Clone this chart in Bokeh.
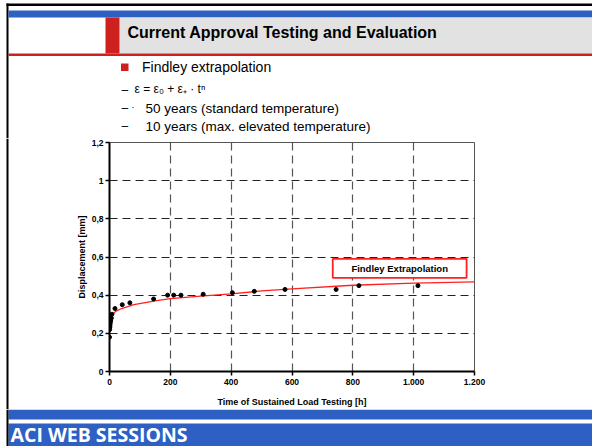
from bokeh.plotting import figure
from bokeh.layouts import column, row
from bokeh.models import Range1d, FixedTicker, BoxAnnotation, Label
from bokeh.core.properties import value
from bokeh.embed import file_html
from bokeh.resources import INLINE

# ---------------- data ----------------
t_measured = [0, 0.5, 1, 1.5, 2, 3, 4, 6, 8, 18, 42, 67, 145, 191, 211, 235, 308, 404, 476, 577, 745, 820, 1014]
d_measured = [0.18, 0.22, 0.23, 0.24, 0.25, 0.26, 0.27, 0.28, 0.30, 0.33, 0.35, 0.36, 0.38, 0.40, 0.40, 0.40,
              0.405, 0.413, 0.42, 0.43, 0.43, 0.45, 0.45]

t_findley = [0, 0.3, 1, 3, 8, 20, 40, 80, 150, 200, 300, 400, 500, 600, 800, 1000, 1200]
d_findley = [0.20, 0.225, 0.24, 0.27, 0.295, 0.315, 0.33, 0.35, 0.37, 0.382, 0.395, 0.407, 0.422, 0.433, 0.452, 0.463, 0.47]

x_ticks = [0, 200, 400, 600, 800, 1000, 1200]
x_tick_labels = ["0", "200", "400", "600", "800", "1.000", "1.200"]
y_ticks = [0, 0.2, 0.4, 0.6, 0.8, 1.0, 1.2]
y_tick_labels = ["0", "0,2", "0,4", "0,6", "0,8", "1", "1,2"]

title_text = "Current Approval Testing and Evaluation"
bullet_text = "Findley extrapolation"
sub_texts = ["ε = ε₀ + ε₊ · tⁿ", "50 years (standard temperature)", "10 years (max. elevated temperature)"]
legend_text = "Findley Extrapolation"
x_title = "Time of Sustained Load Testing [h]"
y_title = "Displacement [mm]"
footer_text = "ACI WEB SESSIONS"

RED = "#cf2020"
BLUE = "#2d60c2"
FONT = value("Liberation Sans")

W = 592


def deco_figure(width, height, y0):
    f = figure(width=width, height=height, x_range=Range1d(0, width), y_range=Range1d(y0 + height, y0),
               x_axis_type=None, y_axis_type=None, output_backend="svg", toolbar_location=None,
               min_border=0, min_border_left=0, min_border_right=0, min_border_top=0, min_border_bottom=0,
               outline_line_color=None, frame_align=False)
    f.background_fill_color = "white"
    f.border_fill_color = "white"
    return f


# ---------------- header (page y 0..138) ----------------
H1 = 138
hdr = deco_figure(W, H1, 0)
hdr.quad(left=[6], right=[592], top=[3], bottom=[5.5], color="black", line_color=None)
hdr.quad(left=[6], right=[8], top=[3], bottom=[H1], color="black", line_color=None)
hdr.quad(left=[8], right=[592], top=[10], bottom=[17], color=BLUE, line_color=None)
hdr.quad(left=[119], right=[592], top=[17], bottom=[53], color="#e2e2e2", line_color=None)
hdr.quad(left=[105], right=[119], top=[17], bottom=[53], color=RED, line_color=None)
hdr.quad(left=[8], right=[592], top=[53], bottom=[55.5], color=RED, line_color=None)
hdr.quad(left=[120.5], right=[128], top=[63], bottom=[70.5], color=RED, line_color=None)
hdr.text(x=[127], y=[32], text=[title_text], text_font=FONT, text_font_style="bold",
         text_font_size="16px", text_color="black", text_baseline="middle")
hdr.text(x=[141.5], y=[66.5], text=[bullet_text], text_font=FONT, text_font_size="14px",
         text_color="black", text_baseline="middle")
hdr.text(x=[121, 121, 121], y=[89, 107.5, 125.5], text=["–", "–", "–"], text_font=FONT,
         text_font_size="12px", text_color="black", text_baseline="middle")
hdr.text(x=[131], y=[106.5], text=["·"], text_font=FONT, text_font_size="9px",
         text_color="black", text_baseline="middle")
hdr.text(x=[134], y=[88.5], text=[sub_texts[0]], text_font=FONT, text_font_size="12px",
         text_color="black", text_baseline="middle")
hdr.text(x=[145, 145], y=[107.5, 125.5], text=sub_texts[1:], text_font=FONT, text_font_size="13.5px",
         text_color="black", text_baseline="middle")

# ---------------- chart (page y 138..409) ----------------
H2 = 271
strip = deco_figure(9, H2, 138)
strip.quad(left=[6], right=[8], top=[138], bottom=[138 + H2], color="black", line_color=None)

p = figure(width=W - 9, height=H2, x_range=Range1d(0, 1200), y_range=Range1d(0, 1.2),
           output_backend="svg", toolbar_location=None, frame_align=False,
           min_border_left=100, min_border_right=118, min_border_top=4, min_border_bottom=37)
p.background_fill_color = "white"
p.border_fill_color = "white"
p.outline_line_color = "#555555"
p.outline_line_width = 1

p.xaxis.ticker = FixedTicker(ticks=x_ticks)
p.xaxis.major_label_overrides = {t: l for t, l in zip(x_ticks, x_tick_labels)}
p.yaxis.ticker = FixedTicker(ticks=y_ticks)
p.yaxis.major_label_overrides = {t: l for t, l in zip(y_ticks, y_tick_labels)}

for ax in (p.xaxis[0], p.yaxis[0]):
    ax.axis_line_width = 2
    ax.axis_line_color = "black"
    ax.major_tick_line_color = "black"
    ax.major_tick_line_width = 1.5
    ax.major_tick_out = 4
    ax.major_tick_in = 0
    ax.minor_tick_line_color = None
    ax.major_label_text_font = "Liberation Sans"
    ax.major_label_text_font_style = "bold"
    ax.major_label_text_font_size = "8.5px"
    ax.major_label_text_color = "black"
    ax.axis_label_text_font = "Liberation Sans"
    ax.axis_label_text_font_style = "bold"
    ax.axis_label_text_font_size = "9px"
    ax.axis_label_text_color = "black"

p.xaxis.axis_label = x_title
p.yaxis.axis_label = y_title
p.xaxis.major_label_standoff = 3
p.xaxis.axis_label_standoff = 9
p.yaxis.major_label_standoff = 2
p.yaxis.axis_label_standoff = 2

p.xgrid.ticker = FixedTicker(ticks=x_ticks[1:-1])
p.ygrid.ticker = FixedTicker(ticks=y_ticks[1:-1])
p.xgrid.grid_line_color = "#555555"
p.xgrid.grid_line_width = 1.2
p.xgrid.grid_line_dash = "8 5"
p.ygrid.grid_line_color = "#222222"
p.ygrid.grid_line_width = 1
p.ygrid.grid_line_dash = "8 5"

p.line(t_findley, d_findley, line_color="#ff2020", line_width=1.3)
p.scatter(t_measured, d_measured, marker="circle", size=4, color="black")

p.add_layout(BoxAnnotation(left=734, right=1174, bottom=0.491, top=0.59, fill_color="white",
                           fill_alpha=1, line_color="#ff2020", line_alpha=1, line_width=1.8))
p.add_layout(Label(x=954, y=0.5405, text=legend_text, text_align="center", text_baseline="middle",
                   text_font="Liberation Sans", text_font_style="bold", text_font_size="9.5px",
                   text_color="black"))

# ---------------- footer (page y 409..446) ----------------
H3 = 37
ftr = deco_figure(W, H3, 409)
ftr.quad(left=[8], right=[592], top=[409], bottom=[419], color=BLUE, line_color=None)
ftr.quad(left=[8], right=[592], top=[423], bottom=[446], color=BLUE, line_color=None)
ftr.quad(left=[6], right=[8], top=[409], bottom=[446], color="black", line_color=None)
ftr.text(x=[10], y=[433.5], text=[footer_text], text_font=value("Open Sans"), text_font_style="bold",
         text_font_size="19.5px", text_color="white", text_baseline="middle")

layout = column(hdr, row(strip, p, spacing=0), ftr, spacing=0)
open("out.html", "w").write(file_html(layout, INLINE))
